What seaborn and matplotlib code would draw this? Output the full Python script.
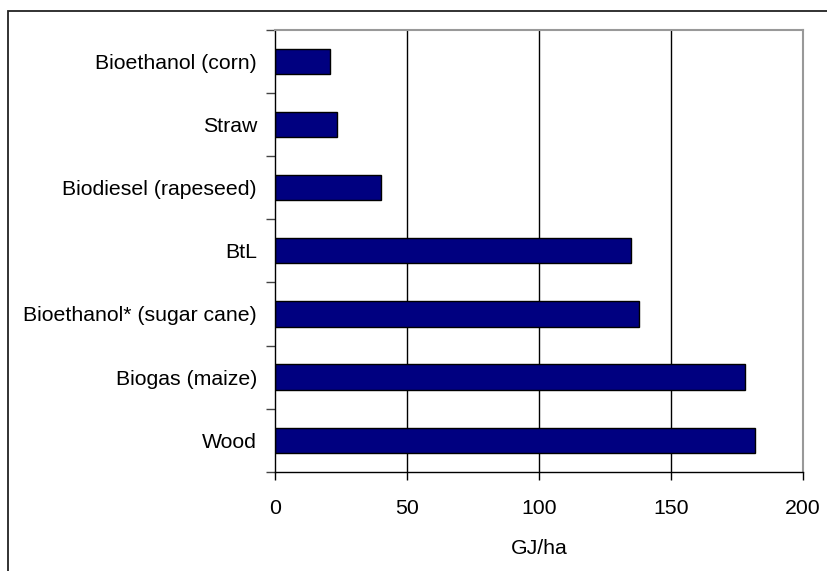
import matplotlib
matplotlib.use("Agg")
import matplotlib.pyplot as plt
from matplotlib.patches import Rectangle
import seaborn as sns
import pandas as pd

# Energy yield per hectare by bioenergy pathway
categories = [
    "Bioethanol (corn)",
    "Straw",
    "Biodiesel (rapeseed)",
    "BtL",
    "Bioethanol* (sugar cane)",
    "Biogas (maize)",
    "Wood",
]
yields_gj_ha = [21, 23.5, 40, 135, 138, 178, 182]
x_ticks = [0, 50, 100, 150, 200]
x_label = "GJ/ha"

df = pd.DataFrame({"pathway": categories, "yield": yields_gj_ha})

sns.set_style("white")
plt.rcParams["font.family"] = ["Liberation Sans", "DejaVu Sans"]
plt.rcParams["text.color"] = "black"
plt.rcParams["axes.labelcolor"] = "black"
plt.rcParams["xtick.color"] = "black"
plt.rcParams["ytick.color"] = "black"

FS = 15.3
W, H = 827, 571
fig = plt.figure(figsize=(W / 100, H / 100), dpi=100)
ax = fig.add_axes([275 / W, 1 - 471.7 / H, (803 - 275) / W, (471.7 - 30) / H])

sns.barplot(
    data=df, x="yield", y="pathway", orient="h", ax=ax,
    color="#000080", saturation=1, width=0.4,
    edgecolor="black", linewidth=1.0,
)

ax.set_xlim(x_ticks[0], x_ticks[-1])
ax.set_ylim(len(categories) - 0.5, -0.5)
ax.set_xticks(x_ticks)
ax.set_xticklabels([str(t) for t in x_ticks])

# category labels centred on bars, tick marks on the boundaries between them
ax.set_yticks(range(len(categories)))
ax.set_yticklabels(categories)
ax.set_yticks([i - 0.5 for i in range(len(categories) + 1)], minor=True)
ax.tick_params(axis="y", which="major", length=0, pad=13, labelsize=FS, labelcolor="black")
ax.tick_params(axis="y", which="minor", length=6.5, width=1, color="#444444", direction="out", left=True)
ax.tick_params(axis="x", which="major", length=5.5, width=1, color="black", direction="out",
               bottom=True, pad=14, labelsize=FS, labelcolor="black")

ax.set_xlabel(x_label, fontsize=FS, labelpad=15, color="black")
ax.set_ylabel("")

# vertical grid lines behind the bars
ax.set_axisbelow(True)
ax.xaxis.grid(True, color="black", linewidth=1)
ax.yaxis.grid(False)
gl = ax.get_xgridlines()
gl[0].set_visible(False)
gl[-1].set_visible(False)

for side in ("left", "bottom"):
    ax.spines[side].set_color("black")
    ax.spines[side].set_linewidth(1)
for side in ("top", "right"):
    ax.spines[side].set_visible(True)
    ax.spines[side].set_color("#999999")
    ax.spines[side].set_linewidth(1.5)

# chart frame, open on the right and bottom edges
fig.patches.append(Rectangle((8 / W, -0.2), 1.5, 1.2 - 10.5 / H,
                             transform=fig.transFigure, fill=False,
                             edgecolor="#222222", linewidth=1.3))

fig.savefig("out.png", dpi=100)
